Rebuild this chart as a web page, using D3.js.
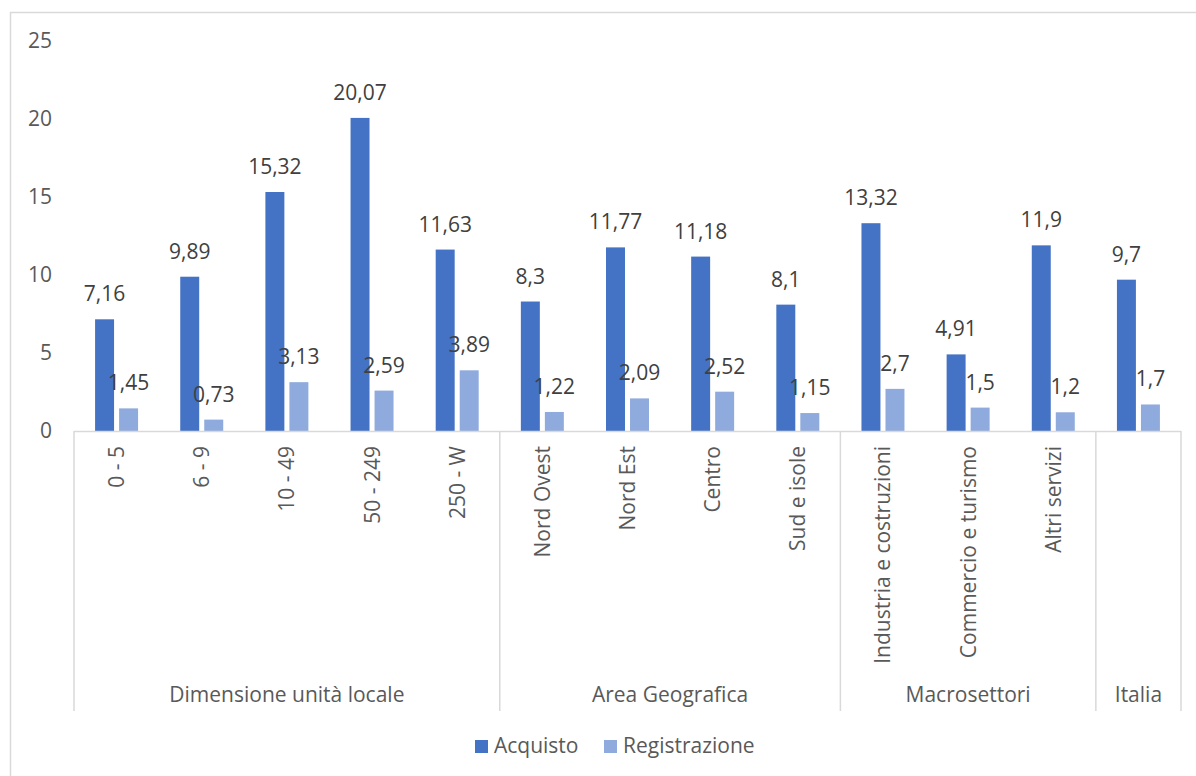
<!DOCTYPE html>
<html>
<head>
<meta charset="utf-8">
<script src="https://cdn.jsdelivr.net/npm/d3@7"></script>
<style>
  html, body { margin: 0; padding: 0; background: #fff; }
  svg { display: block; font-family: "Open Sans", "Noto Sans", sans-serif; }
</style>
</head>
<body>
<svg id="chart" width="1196" height="776"></svg>
<script>
// Categories, their groups and the two series
const categories = ["0 - 5", "6 - 9", "10 - 49", "50 - 249", "250 - W",
  "Nord Ovest", "Nord Est", "Centro", "Sud e isole",
  "Industria e costruzioni", "Commercio e turismo", "Altri servizi", ""];
const groups = ["Dimensione unità locale", "Area Geografica", "Macrosettori", "Italia"];
const groupSizes = [5, 4, 3, 1];
const seriesNames = ["Acquisto", "Registrazione"];
const acquisto = [7.16, 9.89, 15.32, 20.07, 11.63, 8.3, 11.77, 11.18, 8.1, 13.32, 4.91, 11.9, 9.7];
const registrazione = [1.45, 0.73, 3.13, 2.59, 3.89, 1.22, 2.09, 2.52, 1.15, 2.7, 1.5, 1.2, 1.7];
const yTicks = [0, 5, 10, 15, 20, 25];
const colors = ["#4472C4", "#8FAADC"];

const svg = d3.select("#chart");
const plotLeft = 74, plotRight = 1181, plotTop = 41, plotBottom = 431;
const sepBottom = 711;
const gridColor = "#d9d9d9";
const fontSize = "21px";

// Chart frame (top and left edges)
svg.append("path")
  .attr("d", "M10.5,776 V12.5 H1196")
  .attr("fill", "none").attr("stroke", gridColor).attr("stroke-width", 1.5);

const x0 = d3.scaleBand().domain(d3.range(categories.length)).range([plotLeft, plotRight]).padding(0);
const x1 = d3.scaleBand().domain(seriesNames).range([0, x0.bandwidth()])
  .paddingInner(0.21).paddingOuter(0.878);
const y = d3.scaleLinear().domain([0, 25]).range([plotBottom, plotTop]);

// Y axis labels
const yAxis = d3.axisLeft(y).tickValues(yTicks).tickSize(0).tickPadding(0).tickFormat(d3.format("d"));
const yg = svg.append("g").attr("transform", "translate(52,0)").call(yAxis);
yg.select(".domain").remove();
yg.selectAll("text").attr("fill", "#595959").style("font-size", fontSize)
  .style("font-family", "'Open Sans', sans-serif");

// Bars
const data = categories.map((c, i) => ({ i, values: [acquisto[i], registrazione[i]] }));
const catG = svg.selectAll("g.cat").data(data).join("g")
  .attr("class", "cat").attr("transform", d => `translate(${x0(d.i)},0)`);

catG.selectAll("rect").data(d => d.values.map((v, k) => ({ k, v }))).join("rect")
  .attr("x", d => x1(seriesNames[d.k]))
  .attr("width", x1.bandwidth())
  .attr("y", d => y(d.v))
  .attr("height", d => y(0) - y(d.v))
  .attr("fill", d => colors[d.k]);

catG.selectAll("text.val").data(d => d.values.map((v, k) => ({ k, v }))).join("text")
  .attr("class", "val")
  .attr("x", d => x1(seriesNames[d.k]) + x1.bandwidth() / 2)
  .attr("y", d => y(d.v) - 18)
  .attr("text-anchor", "middle")
  .attr("fill", "#404040").style("font-size", fontSize)
  .text(d => String(d.v).replace(".", ","));

// Category axis: baseline and group separators
svg.append("line").attr("x1", plotLeft).attr("x2", plotRight)
  .attr("y1", plotBottom + 0.5).attr("y2", plotBottom + 0.5)
  .attr("stroke", gridColor).attr("stroke-width", 1.5);

let acc = 0;
const bounds = [0];
groupSizes.forEach(n => { acc += n; bounds.push(acc); });
const boundX = b => (b < categories.length ? x0(b) : plotRight);
bounds.forEach(b => {
  const xx = boundX(b);
  svg.append("line").attr("x1", xx).attr("x2", xx).attr("y1", plotBottom).attr("y2", sepBottom)
    .attr("stroke", gridColor).attr("stroke-width", 1.5);
});

// Rotated category labels
svg.selectAll("text.catlab").data(categories).join("text")
  .attr("class", "catlab")
  .attr("transform", (d, i) => `translate(${x0(i) + x0.bandwidth() / 2 + 7.5},446) rotate(-90)`)
  .attr("text-anchor", "end")
  .attr("fill", "#595959").style("font-size", fontSize)
  .text(d => d);

// Group labels
groups.forEach((g, gi) => {
  const a = boundX(bounds[gi]);
  const b = boundX(bounds[gi + 1]);
  svg.append("text").attr("x", (a + b) / 2).attr("y", 702)
    .attr("text-anchor", "middle").attr("fill", "#595959").style("font-size", fontSize)
    .text(g);
});

// Legend
const legendX = [475, 604];
seriesNames.forEach((s, k) => {
  svg.append("rect").attr("x", legendX[k]).attr("y", 740).attr("width", 13).attr("height", 13)
    .attr("fill", colors[k]);
  svg.append("text").attr("x", legendX[k] + 19).attr("y", 753)
    .attr("fill", "#595959").style("font-size", fontSize).text(s);
});
</script>
</body>
</html>
